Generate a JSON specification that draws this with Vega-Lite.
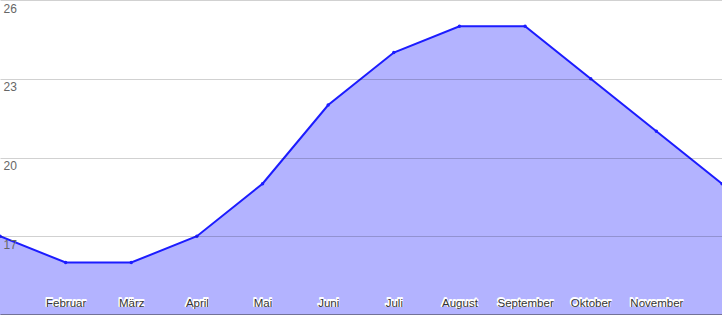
{
  "$schema": "https://vega.github.io/schema/vega-lite/v6.json",
  "width": 722,
  "height": 315,
  "autosize": "none",
  "padding": 0,
  "background": "white",
  "config": {"view": {"stroke": null}},
  "data": {"values": [
    {"Monat": "Januar", "Wert": 17},
    {"Monat": "Februar", "Wert": 16},
    {"Monat": "März", "Wert": 16},
    {"Monat": "April", "Wert": 17},
    {"Monat": "Mai", "Wert": 19},
    {"Monat": "Juni", "Wert": 22},
    {"Monat": "Juli", "Wert": 24},
    {"Monat": "August", "Wert": 25},
    {"Monat": "September", "Wert": 25},
    {"Monat": "Oktober", "Wert": 23},
    {"Monat": "November", "Wert": 21},
    {"Monat": "Dezember", "Wert": 19}
  ]},
  "encoding": {
    "x": {
      "field": "Monat", "type": "ordinal", "sort": null,
      "scale": {"type": "point", "padding": 0},
      "axis": {
        "values": ["Februar","März","April","Mai","Juni","Juli","August","September","Oktober","November"],
        "title": null, "labelAngle": 0, "ticks": false, "grid": false,
        "labelFont": "Liberation Sans", "labelFontSize": 11.5, "labelColor": "#333",
        "labelBaseline": "alphabetic", "labelPadding": -9,
        "domainColor": "#333", "domainWidth": 2, "labelOverlap": false, "zindex": 2
      }
    },
    "y": {
      "field": "Wert", "type": "quantitative",
      "scale": {"domain": [14, 26], "nice": false, "zero": false},
      "axis": {
        "values": [17, 20, 23, 26], "title": null, "ticks": false, "domain": false,
        "labelFont": "Liberation Sans", "labelFontSize": 12, "labelColor": "#666",
        "labelAlign": "left", "labelBaseline": "top", "labelPadding": -3, "labelOffset": 3,
        "gridColor": "#000", "gridOpacity": 0.18, "zindex": 1
      }
    }
  },
  "layer": [
    {"mark": {"type": "area", "color": "#b3b3ff", "opacity": 1}},
    {"mark": {"type": "line", "color": "#1c1cff", "strokeWidth": 2, "point": {"filled": true, "color": "#1c1cff", "size": 12}}},
    {
      "transform": [{"filter": "datum.Monat != 'Januar' && datum.Monat != 'Dezember'"}],
      "mark": {"type": "text", "font": "Liberation Sans", "fontSize": 11.5, "baseline": "alphabetic", "dy": -9, "stroke": "white", "strokeWidth": 2, "strokeJoin": "round", "fill": "white"},
      "encoding": {"text": {"field": "Monat"}, "y": {"datum": 14}}
    }
  ]
}
